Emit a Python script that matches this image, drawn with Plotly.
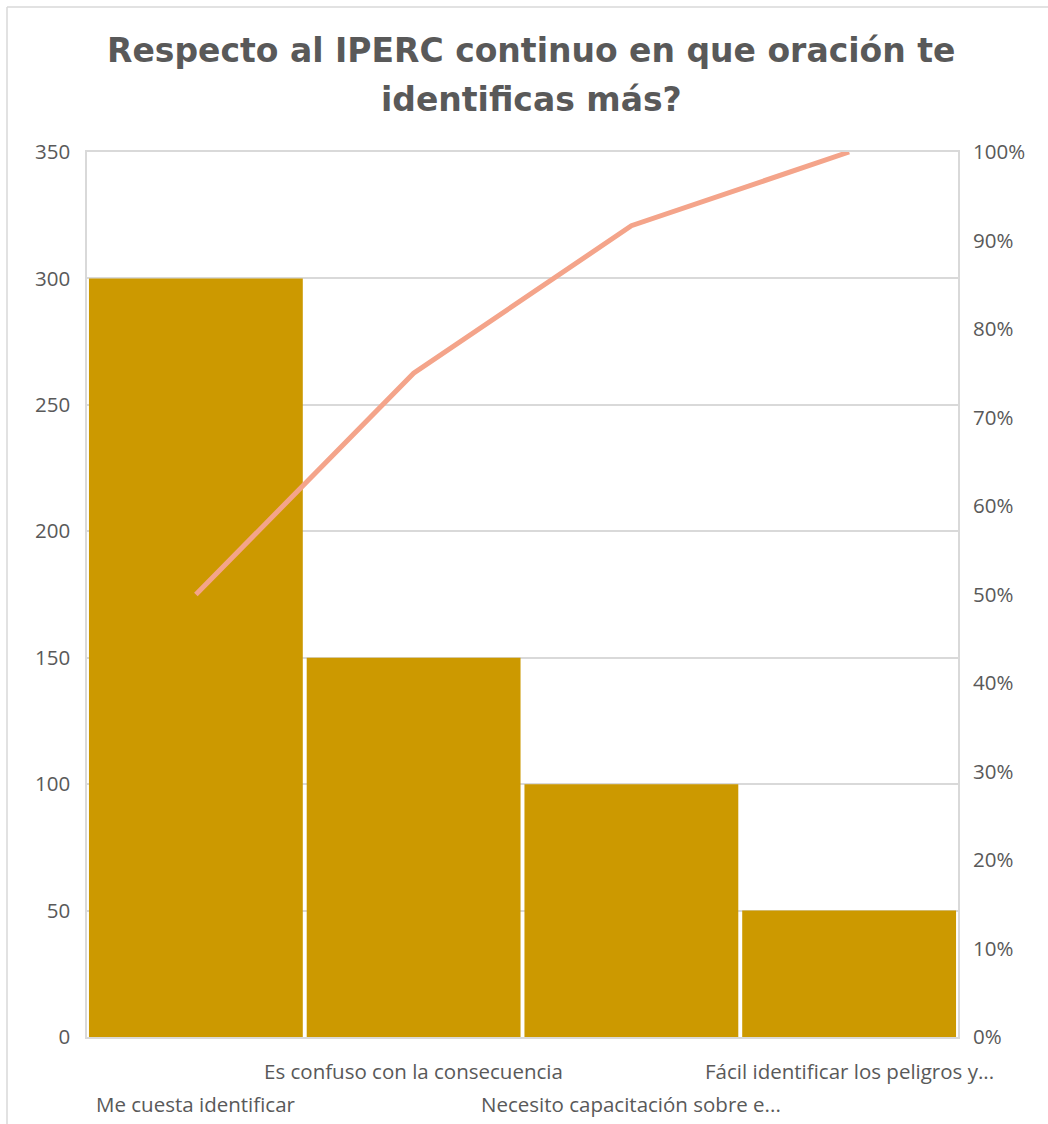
import numpy as np
import plotly.graph_objects as go

# Survey responses: "Respecto al IPERC continuo en que oración te identificas más?"
title_lines = ["Respecto al IPERC continuo en que oración te", "identificas más?"]
categories = [
    "Me cuesta identificar",
    "Es confuso con la consecuencia",
    "Necesito capacitación sobre e...",
    "Fácil identificar los peligros y...",
]
counts = [300, 150, 100, 50]

# Pareto cumulative share
cumulative_share = np.cumsum(counts) / np.sum(counts)

BAR_COLOR = "#CC9900"
LINE_COLOR = "#F4A48A"
TEXT_GRAY = "#595959"
GRID_GRAY = "#D9D9D9"
TICK_FONT = dict(family="Open Sans, Noto Sans, sans-serif", size=20.5, color=TEXT_GRAY)
TITLE_FONT = dict(family="DejaVu Sans, sans-serif", size=33, color=TEXT_GRAY)

# plot area in pixels: x 87..958, y 152..1037
PX_L, PX_R, PX_T, PX_B = 87, 958, 152, 1037
def paper_x(px):
    return (px - PX_L) / (PX_R - PX_L)
def paper_y(py):
    return (PX_B - py) / (PX_B - PX_T)

x_pos = list(range(len(categories)))

fig = go.Figure()
fig.add_trace(go.Bar(
    x=x_pos, y=counts, marker=dict(color=BAR_COLOR, line=dict(width=0)),
    yaxis="y", showlegend=False, hoverinfo="y",
))
fig.add_trace(go.Scatter(
    x=x_pos, y=cumulative_share, mode="lines",
    line=dict(color=LINE_COLOR, width=5), yaxis="y2", showlegend=False,
))

# Chart title, two centred lines
for line_text, cy in zip(title_lines, [50, 100]):
    fig.add_annotation(
        x=paper_x(531), xref="paper", y=paper_y(cy), yref="paper",
        text=f"<b>{line_text}</b>", showarrow=False,
        xanchor="center", yanchor="middle", font=TITLE_FONT,
    )

# Category labels staggered on two rows
for i, label in enumerate(categories):
    fig.add_annotation(
        x=i, xref="x", y=paper_y(1104) if i % 2 == 0 else paper_y(1071), yref="paper",
        text=label, showarrow=False, xanchor="center", yanchor="middle",
        font=TICK_FONT,
    )

# Outer chart frame (top and left edges)
fig.add_shape(type="line", xref="paper", yref="paper",
              x0=paper_x(7), x1=paper_x(1060), y0=paper_y(7), y1=paper_y(7),
              line=dict(color=GRID_GRAY, width=1.5))
fig.add_shape(type="line", xref="paper", yref="paper",
              x0=paper_x(7), x1=paper_x(7), y0=paper_y(7), y1=paper_y(1140),
              line=dict(color=GRID_GRAY, width=1.5))

fig.update_layout(
    width=1048, height=1124,
    margin=dict(l=PX_L, r=1048 - PX_R, t=PX_T, b=1124 - PX_B),
    paper_bgcolor="white", plot_bgcolor="white",
    bargap=0.018,
    xaxis=dict(
        range=[-0.5, len(categories) - 0.5], showticklabels=False,
        showgrid=False, zeroline=False,
        showline=True, mirror=True, linecolor=GRID_GRAY, linewidth=1.5,
    ),
    yaxis=dict(
        range=[0, 350], dtick=50, tickfont=TICK_FONT,
        showgrid=True, gridcolor=GRID_GRAY, gridwidth=1.5, zeroline=False,
        showline=True, mirror=True, linecolor=GRID_GRAY, linewidth=1.5,
        ticks="", ticklabelstandoff=11,
    ),
    yaxis2=dict(
        range=[0, 1], dtick=0.1, tickformat=".0%", tickfont=TICK_FONT,
        overlaying="y", side="right", showgrid=False, zeroline=False,
        ticks="", ticklabelstandoff=14,
    ),
)

fig.write_html("out.html")
